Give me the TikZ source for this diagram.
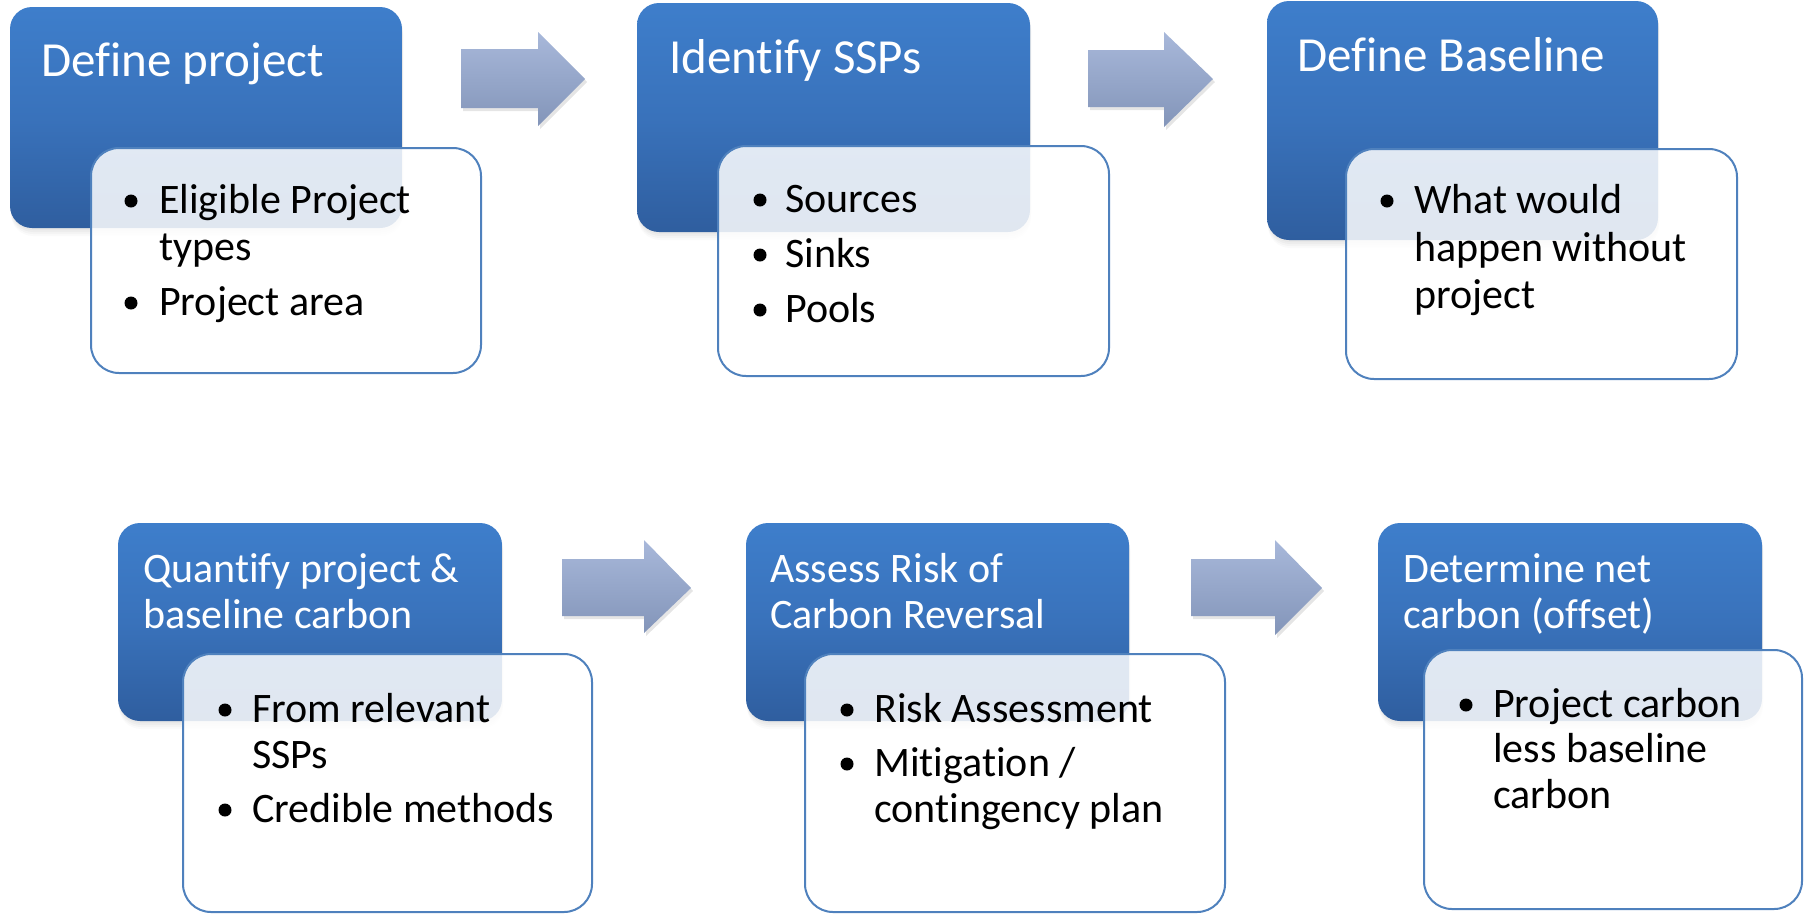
\documentclass[tikz,border=0pt]{standalone}
\usepackage{fontspec}
\setmainfont{Carlito}[Ligatures=CommonOff]
\usetikzlibrary{shadows}
\definecolor{bluetop}{RGB}{62,126,203}
\definecolor{bluemid}{RGB}{57,114,187}
\definecolor{bluebot}{RGB}{47,94,159}
\definecolor{boxline}{RGB}{79,129,189}
\definecolor{arrtop}{RGB}{168,184,218}
\definecolor{arrbot}{RGB}{131,149,185}
\begin{document}
\begin{tikzpicture}[x=1pt,y=-1pt,
  softshadow/.style={
    drop shadow={opacity=.06,shadow xshift=1pt,shadow yshift=-2pt},
    drop shadow={opacity=.06,shadow xshift=1pt,shadow yshift=-4pt},
    drop shadow={opacity=.05,shadow xshift=1pt,shadow yshift=-6pt},
    drop shadow={opacity=.04,shadow xshift=1pt,shadow yshift=-8pt}},
  stepbox/.style={softshadow, rectangle, rounded corners=22pt, anchor=north west,
    inner sep=0pt, outer sep=0pt,
    top color=bluetop, bottom color=bluebot, middle color=bluemid},
  notebox/.style={rectangle, rounded corners=28pt, anchor=north west,
    inner sep=0pt, outer sep=0pt, draw=boxline, line width=2pt,
    fill=white, fill opacity=0.85},
  bigtitle/.style={text=white, font=\fontsize{49}{56}\selectfont, anchor=base west, inner sep=0pt},
  smalltitle/.style={text=white, font=\fontsize{42}{46}\selectfont, anchor=base west, inner sep=0pt},
  itemtext/.style={text=black, font=\fontsize{42}{47}\selectfont, anchor=base west, inner sep=0pt},
  arrowfill/.style={top color=arrtop, bottom color=arrbot},
  arrowshade/.style={fill=black, fill opacity=.10},
]
\useasboundingbox (0,0) rectangle (1804,914);

% ---------- row 1 ----------
\node[stepbox, minimum width=392pt, minimum height=221pt] (b1) at (10,7) {};
\node[notebox, minimum width=390pt, minimum height=225pt] (w1) at (91,148) {};
\node[bigtitle] (t1) at (41,76) {Define project};
\fill (131,201) circle[radius=6.5];
\node[itemtext] (i1a) at (159,213) {Eligible Project};
\node[itemtext] (i1b) at (159,260) {types};
\fill (131,303) circle[radius=6.5];
\node[itemtext] (i1c) at (159,315) {Project area};

\node[stepbox, minimum width=393pt, minimum height=229pt] (b2) at (637,3) {};
\node[notebox, minimum width=391pt, minimum height=230pt] (w2) at (718,146) {};
\node[bigtitle] (t2) at (669,73) {Identify SSPs};
\fill (760,200) circle[radius=6.5];
\node[itemtext] (i2a) at (785,212) {Sources};
\fill (760,255) circle[radius=6.5];
\node[itemtext] (i2b) at (785,267) {Sinks};
\fill (760,310) circle[radius=6.5];
\node[itemtext] (i2c) at (785,322) {Pools};

\node[stepbox, minimum width=391pt, minimum height=239pt] (b3) at (1267,1) {};
\node[notebox, minimum width=391pt, minimum height=230pt] (w3) at (1346,149) {};
\node[bigtitle] (t3) at (1297,71) {Define Baseline};
\fill (1387,201) circle[radius=6.5];
\node[itemtext] (i3a) at (1414,213) {What would};
\node[itemtext] (i3b) at (1414,261) {happen without};
\node[itemtext] (i3c) at (1414,308) {project};

% arrows between the top steps
\fill[arrowshade] (463,52) -- (540,52) -- (540,35) -- (587,82) -- (540,129) -- (540,111) -- (463,111) -- cycle;
\shade[arrowfill] (461,49) -- (538,49) -- (538,32) -- (585,79) -- (538,126) -- (538,108) -- (461,108) -- cycle;
\fill[arrowshade] (1090,53) -- (1166,53) -- (1166,35) -- (1215,82) -- (1166,130) -- (1166,110) -- (1090,110) -- cycle;
\shade[arrowfill] (1088,50) -- (1164,50) -- (1164,32) -- (1213,79) -- (1164,127) -- (1164,107) -- (1088,107) -- cycle;

% ---------- row 2 ----------
\node[stepbox, minimum width=384pt, minimum height=198pt] (b4) at (118,523) {};
\node[notebox, minimum width=409pt, minimum height=258pt] (w4) at (183,654) {};
\node[smalltitle] (t4a) at (143,582) {Quantify project \&};
\node[smalltitle] (t4b) at (143,628) {baseline carbon};
\fill (225,710) circle[radius=6.5];
\node[itemtext] (i4a) at (252,722) {From relevant};
\node[itemtext] (i4b) at (252,768) {SSPs};
\fill (225,810) circle[radius=6.5];
\node[itemtext] (i4c) at (252,822) {Credible methods};

\node[stepbox, minimum width=383pt, minimum height=198pt] (b5) at (746,523) {};
\node[notebox, minimum width=420pt, minimum height=258pt] (w5) at (805,654) {};
\node[smalltitle] (t5a) at (770,582) {Assess Risk of};
\node[smalltitle] (t5b) at (770,628) {Carbon Reversal};
\fill (847,710) circle[radius=6.5];
\node[itemtext] (i5a) at (874,722) {Risk Assessment};
\fill (847,764) circle[radius=6.5];
\node[itemtext] (i5b) at (874,776) {Mitigation /};
\node[itemtext] (i5c) at (874,822) {contingency plan};

\node[stepbox, minimum width=384pt, minimum height=198pt] (b6) at (1378,523) {};
\node[notebox, minimum width=378pt, minimum height=259pt] (w6) at (1424,650) {};
\node[smalltitle] (t6a) at (1403,582) {Determine net};
\node[smalltitle] (t6b) at (1403,628) {carbon (offset)};
\fill (1466,705) circle[radius=6.5];
\node[itemtext] (i6a) at (1493,717) {Project carbon};
\node[itemtext] (i6b) at (1493,762) {less baseline};
\node[itemtext] (i6c) at (1493,808) {carbon};

% arrows between the bottom steps
\fill[arrowshade] (564,562) -- (646,562) -- (646,543) -- (693,591) -- (646,636) -- (646,619) -- (564,619) -- cycle;
\shade[arrowfill] (562,559) -- (644,559) -- (644,540) -- (691,588) -- (644,633) -- (644,616) -- (562,616) -- cycle;
\fill[arrowshade] (1193,562) -- (1277,562) -- (1277,543) -- (1324,591) -- (1277,638) -- (1277,619) -- (1193,619) -- cycle;
\shade[arrowfill] (1191,559) -- (1275,559) -- (1275,540) -- (1322,588) -- (1275,635) -- (1275,616) -- (1191,616) -- cycle;
\end{tikzpicture}
\end{document}
